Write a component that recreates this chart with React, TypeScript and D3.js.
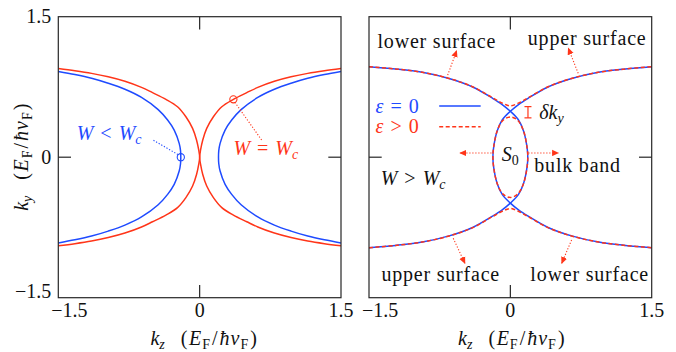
import React from 'react'
import * as d3 from 'd3'

type Pt = [number, number]

// ---- left panel, W = Wc (red) and W < Wc (blue): branch with kz >= 0, upper half ----
const wcRedBranch: Pt[] = [
  [0.0, 0.0], [0.01, 0.077], [0.033, 0.184], [0.075, 0.308], [0.146, 0.432], [0.235, 0.539],
  [0.358, 0.618], [0.5, 0.689], [0.617, 0.745], [0.793, 0.81], [0.97, 0.858], [1.147, 0.895],
  [1.324, 0.923], [1.5, 0.946],
]
const belowWcBlueBranch: Pt[] = [
  [0.2, 0.0], [0.203, 0.07], [0.217, 0.148], [0.27, 0.29], [0.34, 0.397], [0.44, 0.508],
  [0.617, 0.638], [0.793, 0.725], [0.97, 0.789], [1.147, 0.842], [1.324, 0.882], [1.5, 0.915],
]

// ---- right panel, W > Wc: blue branch opening to the left, upper half ----
const aboveWcBlueBranch: Pt[] = [
  [0.185, 0.0], [0.178, 0.1], [0.14, 0.28], [0.085, 0.4], [0.0, 0.49], [-0.09, 0.565],
  [-0.19, 0.63], [-0.4, 0.75], [-0.65, 0.84], [-0.935, 0.906], [-1.22, 0.942], [-1.5, 0.966],
]
// red dashed (eps > 0): outer arc half (kz <= 0) and inner S0 quarter
const redOuterHalf: Pt[] = [
  [0.0, 0.548], [-0.08, 0.575], [-0.19, 0.635], [-0.4, 0.752], [-0.65, 0.841],
  [-0.935, 0.906], [-1.22, 0.942], [-1.5, 0.966],
]
const redInnerQuarter: Pt[] = [
  [0.0, 0.43], [0.08, 0.392], [0.14, 0.28], [0.178, 0.1], [0.185, 0.0],
]

// marked points and annotation arrows (data units)
const leftMarks: Pt[] = [[-0.2, 0.0], [0.358, 0.618]]
const rightArrows: [Pt, Pt][] = [
  [[-0.676, 0.846], [-0.57, 1.137]],
  [[0.72, 0.896], [0.615, 1.163]],
  [[-0.606, -0.866], [-0.482, -1.133]],
  [[0.65, -0.884], [0.545, -1.133]],
  [[-0.2, 0.045], [-0.535, 0.045]],
  [[0.19, 0.045], [0.51, 0.045]],
]

const xTicks = [-1.5, 0, 1.5]
const yTicks = [-1.5, 0, 1.5]
const tickText = ['\u22121.5', '0', '1.5']

const BLUE = '#1f4bff'
const RED = '#ff3519'
const FONT = "'Liberation Serif', 'DejaVu Serif', serif"
const FS = 20
const SUB = 14

const top = 16.7
const bottom = 297.7
const yScale = d3.scaleLinear().domain([-1.5, 1.5]).range([bottom, top])
const xLeft = d3.scaleLinear().domain([-1.5, 1.5]).range([58.3, 341])
const xRight = d3.scaleLinear().domain([-1.5, 1.5]).range([369, 651.7])

const mirrorY = (p: Pt[]): Pt[] => p.map(([a, b]) => [a, -b] as Pt)
const mirrorX = (p: Pt[]): Pt[] => p.map(([a, b]) => [-a, b] as Pt)
const fullBranch = (q: Pt[]): Pt[] => [...mirrorY(q).reverse(), ...q.slice(1)]

function lineFor(x: d3.ScaleLinear<number, number>, closed = false) {
  return d3.line<Pt>()
    .x(d => x(d[0]))
    .y(d => yScale(d[1]))
    .curve(closed ? d3.curveCatmullRomClosed.alpha(0.5) : d3.curveCatmullRom.alpha(0.5))
}

function Units() {
  return (
    <>
      <tspan dx={16} dy={-4}>(</tspan>
      <tspan dx={1.5} fontStyle="italic">E</tspan>
      <tspan dx={1} fontSize={SUB} dy={4}>F</tspan>
      <tspan dx={2} dy={-4}>/</tspan>
      <tspan dx={2} fontStyle="italic">ħ</tspan>
      <tspan dx={1} fontStyle="italic">v</tspan>
      <tspan dx={1} fontSize={SUB} dy={4}>F</tspan>
      <tspan dx={2} dy={-4}>)</tspan>
    </>
  )
}

function MathRel({ x, y, fill, a, rel, b, sub }: { x: number; y: number; fill: string; a: string; rel: string; b: string; sub?: string }) {
  return (
    <text x={x} y={y} fontSize={FS} fill={fill}>
      <tspan fontStyle="italic">{a}</tspan>
      <tspan dx={7}>{rel}</tspan>
      <tspan dx={7} fontStyle={sub ? 'italic' : 'normal'}>{b}</tspan>
      {sub && <tspan fontStyle="italic" fontSize={SUB} dy={4}>{sub}</tspan>}
    </text>
  )
}

function Frame({ x, id, yLabels, labelX }: { x: d3.ScaleLinear<number, number>; id: string; yLabels: boolean; labelX: number }) {
  const [x0, x1] = x.range()
  const tl = 12.7
  const ink = '#262626'
  return (
    <g>
      <clipPath id={id}>
        <rect x={x0} y={top} width={x1 - x0} height={bottom - top} />
      </clipPath>
      <rect x={x0} y={top} width={x1 - x0} height={bottom - top} fill="none" stroke={ink} strokeWidth={1.2} />
      <line x1={x(0)} x2={x(0)} y1={top} y2={top + tl} stroke={ink} strokeWidth={1.2} />
      <line x1={x(0)} x2={x(0)} y1={bottom} y2={bottom - tl} stroke={ink} strokeWidth={1.2} />
      <line x1={x0} x2={x0 + tl} y1={yScale(0)} y2={yScale(0)} stroke={ink} strokeWidth={1.2} />
      <line x1={x1} x2={x1 - tl} y1={yScale(0)} y2={yScale(0)} stroke={ink} strokeWidth={1.2} />
      {xTicks.map((t, i) => (
        <text key={'x' + i}
          x={i === 0 ? x0 - 7 : x(t)}
          y={317}
          textAnchor={i === 0 ? 'start' : 'middle'}
          fontSize={FS} fill="#111">{tickText[i]}</text>
      ))}
      {yLabels && yTicks.map((t, i) => (
        <text key={'y' + i} x={x0 - 7} y={Math.min(yScale(t) + 6.5, bottom + 0.5)}
          textAnchor="end" fontSize={FS} fill="#111">{tickText[i]}</text>
      ))}
      <text x={labelX} y={345} textAnchor="middle" fontSize={FS} fill="#111">
        <tspan fontStyle="italic">k</tspan>
        <tspan fontStyle="italic" fontSize={SUB} dy={4}>z</tspan>
        <Units />
      </text>
    </g>
  )
}

export default function App() {
  const lL = lineFor(xLeft)
  const lR = lineFor(xRight)
  const lRc = lineFor(xRight, true)

  const redRight = fullBranch(wcRedBranch)
  const blueRight = fullBranch(belowWcBlueBranch)
  const blueA = fullBranch(aboveWcBlueBranch)
  const redTop = [...redOuterHalf.slice().reverse(), ...mirrorX(redOuterHalf).slice(1)]
  const innerRight = [...redInnerQuarter, ...mirrorY(redInnerQuarter).reverse().slice(1)]
  const innerClosed = [...innerRight, ...mirrorX(innerRight).reverse().slice(1, -1)]

  const dotted = { stroke: RED, strokeWidth: 1.1, strokeDasharray: '1.2 1.8', fill: 'none' }
  const word = { fontSize: FS, fill: '#111', letterSpacing: 0.8 }

  return (
    <svg width={676} height={352}
      style={{ position: 'absolute', left: 0, top: 0, background: 'white', fontFamily: FONT }}>
      <defs>
        <marker id="ah" viewBox="0 0 10 10" refX={9} refY={5} markerWidth={7} markerHeight={7}
          markerUnits="userSpaceOnUse" orient="auto">
          <path d="M0,0.5 L10,5 L0,9.5 Z" fill={RED} />
        </marker>
      </defs>

      {/* y-axis label */}
      <text transform={`translate(28,${yScale(0)}) rotate(-90)`} textAnchor="middle" fontSize={FS} fill="#111">
        <tspan fontStyle="italic">k</tspan>
        <tspan fontStyle="italic" fontSize={SUB} dy={4}>y</tspan>
        <Units />
      </text>

      {/* ---------- left panel ---------- */}
      <g clipPath="url(#clipL)">
        {[redRight, mirrorX(redRight)].map((p, i) => (
          <path key={'r' + i} d={lL(p) ?? ''} fill="none" stroke={RED} strokeWidth={1.5} />
        ))}
        {[blueRight, mirrorX(blueRight)].map((p, i) => (
          <path key={'b' + i} d={lL(p) ?? ''} fill="none" stroke={BLUE} strokeWidth={1.5} />
        ))}
      </g>
      <Frame x={xLeft} id="clipL" yLabels labelX={xLeft(0) + 4} />
      <circle cx={xLeft(leftMarks[0][0])} cy={yScale(leftMarks[0][1])} r={3.6} fill="none" stroke={BLUE} strokeWidth={1.1} />
      <circle cx={xLeft(leftMarks[1][0])} cy={yScale(leftMarks[1][1])} r={3.6} fill="none" stroke={RED} strokeWidth={1.1} />
      <line x1={xLeft(-0.49)} y1={yScale(0.18)} x2={xLeft(leftMarks[0][0]) - 2.5} y2={yScale(leftMarks[0][1]) - 2.5}
        {...dotted} stroke={BLUE} />
      <line x1={xLeft(leftMarks[1][0]) + 1.5} y1={yScale(leftMarks[1][1]) + 3} x2={xLeft(0.66)} y2={yScale(0.18)}
        {...dotted} />
      <MathRel x={xLeft(-1.305)} y={yScale(0.184)} fill={BLUE} a="W" rel="<" b="W" sub="c" />
      <MathRel x={xLeft(0.358)} y={yScale(0.023)} fill={RED} a="W" rel="=" b="W" sub="c" />

      {/* ---------- right panel ---------- */}
      <g clipPath="url(#clipR)">
        {[blueA, mirrorX(blueA)].map((p, i) => (
          <path key={'b' + i} d={lR(p) ?? ''} fill="none" stroke={BLUE} strokeWidth={1.5} />
        ))}
        {[redTop, mirrorY(redTop)].map((p, i) => (
          <path key={'r' + i} d={lR(p) ?? ''} fill="none" stroke={RED} strokeWidth={1.5} strokeDasharray="4 2.5" />
        ))}
        <path d={lRc(innerClosed) ?? ''} fill="none" stroke={RED} strokeWidth={1.5} strokeDasharray="4 2.5" />
      </g>
      <Frame x={xRight} id="clipR" yLabels={false} labelX={xRight(0) + 1} />

      {rightArrows.map(([a, b], i) => (
        <line key={'a' + i} x1={xRight(a[0])} y1={yScale(a[1])} x2={xRight(b[0])} y2={yScale(b[1])}
          {...dotted} markerEnd="url(#ah)" />
      ))}

      <text x={xRight(-0.78)} y={yScale(1.169)} textAnchor="middle" {...word}>lower surface</text>
      <text x={xRight(0.815)} y={yScale(1.198)} textAnchor="middle" {...word}>upper surface</text>
      <text x={xRight(-0.739)} y={yScale(-1.322)} textAnchor="middle" {...word}>upper surface</text>
      <text x={xRight(0.842)} y={yScale(-1.322)} textAnchor="middle" {...word}>lower surface</text>
      <text x={xRight(0.254)} y={yScale(-0.161)} {...word}>bulk band</text>
      <text x={xRight(0)} y={yScale(-0.037)} textAnchor="middle" fontSize={FS} fill="#111">
        <tspan fontStyle="italic">S</tspan>
        <tspan fontSize={SUB} dy={4}>0</tspan>
      </text>
      <MathRel x={xRight(-1.376)} y={yScale(-0.297)} fill="#111" a="W" rel=">" b="W" sub="c" />

      {/* legend */}
      <MathRel x={xRight(-1.43)} y={yScale(0.469)} fill={BLUE} a="ε" rel="=" b="0" />
      <line x1={xRight(-0.755)} x2={xRight(-0.315)} y1={yScale(0.547)} y2={yScale(0.547)} stroke={BLUE} strokeWidth={1.5} />
      <MathRel x={xRight(-1.43)} y={yScale(0.255)} fill={RED} a="ε" rel=">" b="0" />
      <line x1={xRight(-0.755)} x2={xRight(-0.315)} y1={yScale(0.326)} y2={yScale(0.326)} stroke={RED} strokeWidth={1.5} strokeDasharray="4 2.5" />

      {/* delta k_y gap marker */}
      <g stroke={RED} strokeWidth={1.2}>
        <line x1={xRight(0.187)} x2={xRight(0.187)} y1={yScale(0.54)} y2={yScale(0.42)} />
        <line x1={xRight(0.187) - 3.5} x2={xRight(0.187) + 3.5} y1={yScale(0.54)} y2={yScale(0.54)} />
        <line x1={xRight(0.187) - 3.5} x2={xRight(0.187) + 3.5} y1={yScale(0.42)} y2={yScale(0.42)} />
      </g>
      <text x={xRight(0.307)} y={yScale(0.408)} fontSize={FS} fill="#111">
        <tspan fontStyle="italic">δk</tspan>
        <tspan fontStyle="italic" fontSize={SUB} dy={4}>y</tspan>
      </text>
    </svg>
  )
}
